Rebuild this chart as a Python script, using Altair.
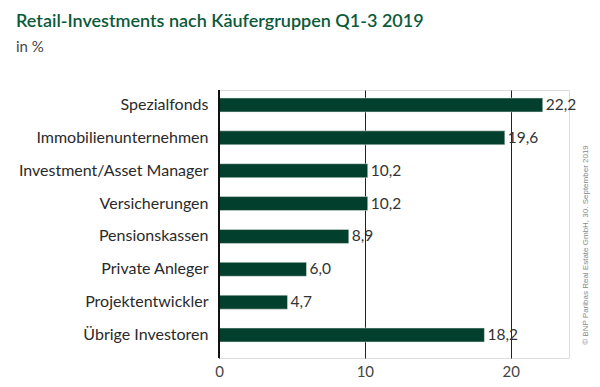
import altair as alt
import pandas as pd

categories = ["Spezialfonds", "Immobilienunternehmen", "Investment/Asset Manager",
              "Versicherungen", "Pensionskassen", "Private Anleger",
              "Projektentwickler", "Übrige Investoren"]
values = [22.2, 19.6, 10.2, 10.2, 8.9, 6.0, 4.7, 18.2]
labels = ["22,2", "19,6", "10,2", "10,2", "8,9", "6,0", "4,7", "18,2"]
x_ticks = [0, 10, 20]
title_text = "Retail-Investments nach Käufergruppen Q1-3 2019"
subtitle_text = "in %"
source_text = "© BNP Paribas Real Estate GmbH, 30. September 2019"

df = pd.DataFrame({"cat": categories, "val": values, "lab": labels})

FONT = "Lato"
GREEN = "#033f2d"

base = alt.Chart(df)

bars = base.mark_bar(color=GREEN, stroke="#e8efe9", strokeWidth=0.5).encode(
    y=alt.Y("cat:N", sort=categories,
            scale=alt.Scale(paddingInner=0.574, paddingOuter=0.365, align=0.333),
            axis=alt.Axis(title=None, domain=False, ticks=False, labelFontSize=16,
                          labelColor="#2a2a2a", labelFont=FONT, labelPadding=11,
                          labelLimit=400)),
    x=alt.X("val:Q", scale=alt.Scale(domain=[0, 24], nice=False),
            axis=alt.Axis(title=None, values=x_ticks, grid=True, gridColor="#222",
                          gridWidth=1, domain=False, ticks=False, labelFontSize=15,
                          labelColor="#444", labelFont=FONT, labelPadding=6,
                          labelFlush=False)),
)

text = base.mark_text(align="left", baseline="middle", dx=3, fontSize=15.5,
                      color="#333", font=FONT).encode(
    y=alt.Y("cat:N", sort=categories),
    x="val:Q",
    text="lab:N",
)

zero = alt.Chart(pd.DataFrame({"z": [0]})).mark_rule(color="#111", strokeWidth=2).encode(
    x="z:Q"
)

annot = pd.DataFrame({"t": [title_text, subtitle_text, source_text]})

title = alt.Chart(annot).transform_filter(alt.datum.t == title_text).mark_text(
    align="left", baseline="alphabetic", fontSize=18, fontWeight=600,
    color="#0b5a3a", font=FONT
).encode(x=alt.value(-203), y=alt.value(-63), text="t:N")

subtitle = alt.Chart(annot).transform_filter(alt.datum.t == subtitle_text).mark_text(
    align="left", baseline="alphabetic", fontSize=15, color="#444", font=FONT
).encode(x=alt.value(-203), y=alt.value(-38), text="t:N")

copyright = alt.Chart(annot).transform_filter(alt.datum.t == source_text).mark_text(
    angle=270, fontSize=8, color="#888", font="Liberation Sans", align="center", baseline="middle"
).encode(x=alt.value(367), y=alt.value(155), text="t:N")

chart = alt.layer(bars, text, zero, title, subtitle, copyright).properties(
    width=350, height=268,
    padding={"left": 211, "top": 82, "right": 22, "bottom": 28},
    autosize=alt.AutoSizeParams(type="none"),
).configure_view(stroke=None).configure(background="white")

chart.save("out.html", embed_options={"renderer": "svg", "actions": False})
